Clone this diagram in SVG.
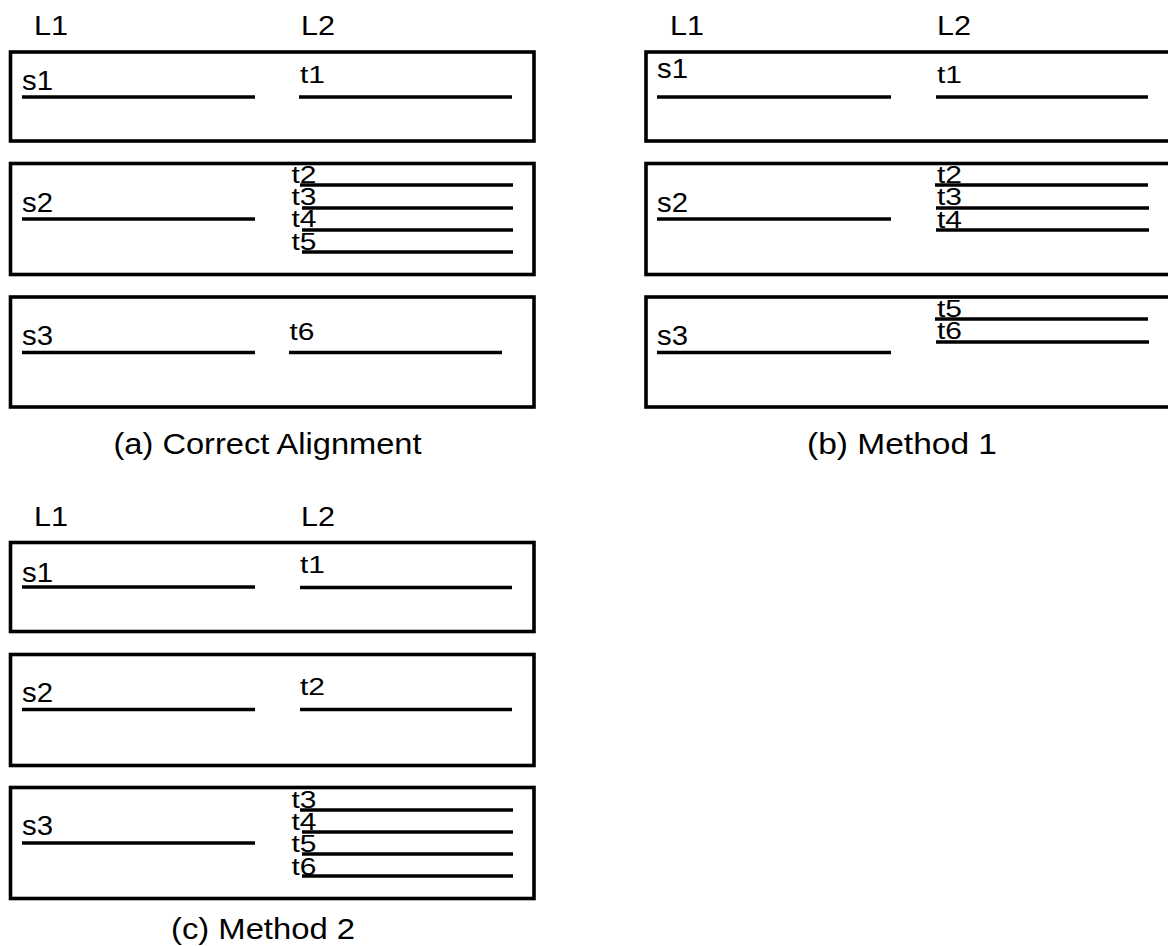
<svg xmlns="http://www.w3.org/2000/svg" width="1168" height="946" viewBox="0 0 1168 946">
  <style>
    text { font-family: "Liberation Sans", Arial, sans-serif; fill: #000; }
    .hdr { font-size: 28px; }
    .sl { font-size: 28px; }
    .tl { font-size: 23px; }
    .cap { font-size: 30px; }
    .box { fill: none; stroke: #000; stroke-width: 3.6; }
    .seg { stroke: #000; stroke-width: 3.6; fill: none; }
  </style>
  <rect width="1168" height="946" fill="#fff"/>

  <!-- Panel (a): correct alignment -->
  <g id="panel-a">
    <text class="hdr" x="34" y="35" textLength="34" lengthAdjust="spacingAndGlyphs">L1</text>
    <text class="hdr" x="301" y="35" textLength="34" lengthAdjust="spacingAndGlyphs">L2</text>
    <g id="a-s1">
      <rect class="box" x="10.5" y="52" width="523.5" height="89"/>
      <text class="sl" x="22" y="90" textLength="31" lengthAdjust="spacingAndGlyphs">s1</text>
      <line class="seg" x1="22" y1="97" x2="255" y2="97"/>
      <text class="tl" x="300" y="83" textLength="25" lengthAdjust="spacingAndGlyphs">t1</text>
      <line class="seg" x1="299" y1="97" x2="512" y2="97"/>
    </g>
    <g id="a-s2">
      <rect class="box" x="10.5" y="163.5" width="523.5" height="111"/>
      <text class="sl" x="22" y="212" textLength="31" lengthAdjust="spacingAndGlyphs">s2</text>
      <line class="seg" x1="22" y1="219" x2="255" y2="219"/>
      <text class="tl" x="291.5" y="183" textLength="25" lengthAdjust="spacingAndGlyphs">t2</text>
      <line class="seg" x1="300" y1="185" x2="513" y2="185"/>
      <text class="tl" x="291.5" y="205" textLength="25" lengthAdjust="spacingAndGlyphs">t3</text>
      <line class="seg" x1="302" y1="208" x2="513" y2="208"/>
      <text class="tl" x="291.5" y="227" textLength="25" lengthAdjust="spacingAndGlyphs">t4</text>
      <line class="seg" x1="302" y1="230" x2="513" y2="230"/>
      <text class="tl" x="291.5" y="250" textLength="25" lengthAdjust="spacingAndGlyphs">t5</text>
      <line class="seg" x1="302" y1="252" x2="513" y2="252"/>
    </g>
    <g id="a-s3">
      <rect class="box" x="10.5" y="297" width="523.5" height="110"/>
      <text class="sl" x="22" y="345" textLength="31" lengthAdjust="spacingAndGlyphs">s3</text>
      <line class="seg" x1="22" y1="352.5" x2="255" y2="352.5"/>
      <text class="tl" x="289.5" y="340" textLength="25" lengthAdjust="spacingAndGlyphs">t6</text>
      <line class="seg" x1="289" y1="352.5" x2="502" y2="352.5"/>
    </g>
    <text class="cap" x="267.5" y="454" text-anchor="middle" textLength="308" lengthAdjust="spacingAndGlyphs">(a) Correct Alignment</text>
  </g>

  <!-- Panel (b): method 1 -->
  <g id="panel-b">
    <text class="hdr" x="670" y="35" textLength="34" lengthAdjust="spacingAndGlyphs">L1</text>
    <text class="hdr" x="937" y="35" textLength="34" lengthAdjust="spacingAndGlyphs">L2</text>
    <g id="b-s1">
      <rect class="box" x="646" y="52" width="530" height="89"/>
      <text class="sl" x="657" y="78" textLength="31" lengthAdjust="spacingAndGlyphs">s1</text>
      <line class="seg" x1="657" y1="97" x2="891" y2="97"/>
      <text class="tl" x="937" y="83" textLength="25" lengthAdjust="spacingAndGlyphs">t1</text>
      <line class="seg" x1="936" y1="97" x2="1148" y2="97"/>
    </g>
    <g id="b-s2">
      <rect class="box" x="646" y="163.5" width="530" height="111"/>
      <text class="sl" x="657" y="212" textLength="31" lengthAdjust="spacingAndGlyphs">s2</text>
      <line class="seg" x1="657" y1="219" x2="891" y2="219"/>
      <text class="tl" x="937" y="183" textLength="25" lengthAdjust="spacingAndGlyphs">t2</text>
      <line class="seg" x1="935" y1="185" x2="1148" y2="185"/>
      <text class="tl" x="937" y="205" textLength="25" lengthAdjust="spacingAndGlyphs">t3</text>
      <line class="seg" x1="936" y1="208" x2="1149" y2="208"/>
      <text class="tl" x="937" y="228" textLength="25" lengthAdjust="spacingAndGlyphs">t4</text>
      <line class="seg" x1="936" y1="230" x2="1149" y2="230"/>
    </g>
    <g id="b-s3">
      <rect class="box" x="646" y="297" width="530" height="110"/>
      <text class="sl" x="657" y="345" textLength="31" lengthAdjust="spacingAndGlyphs">s3</text>
      <line class="seg" x1="657" y1="352.5" x2="891" y2="352.5"/>
      <text class="tl" x="937" y="317" textLength="25" lengthAdjust="spacingAndGlyphs">t5</text>
      <line class="seg" x1="935" y1="319" x2="1148" y2="319"/>
      <text class="tl" x="937" y="339" textLength="25" lengthAdjust="spacingAndGlyphs">t6</text>
      <line class="seg" x1="936" y1="342" x2="1149" y2="342"/>
    </g>
    <text class="cap" x="902" y="454" text-anchor="middle" textLength="190" lengthAdjust="spacingAndGlyphs">(b) Method 1</text>
  </g>

  <!-- Panel (c): method 2 -->
  <g id="panel-c">
    <text class="hdr" x="34" y="526" textLength="34" lengthAdjust="spacingAndGlyphs">L1</text>
    <text class="hdr" x="301" y="526" textLength="34" lengthAdjust="spacingAndGlyphs">L2</text>
    <g id="c-s1">
      <rect class="box" x="10.5" y="542.5" width="523.5" height="89"/>
      <text class="sl" x="22" y="582" textLength="31" lengthAdjust="spacingAndGlyphs">s1</text>
      <line class="seg" x1="22" y1="587" x2="255" y2="587"/>
      <text class="tl" x="300" y="573" textLength="25" lengthAdjust="spacingAndGlyphs">t1</text>
      <line class="seg" x1="300" y1="587.5" x2="512" y2="587.5"/>
    </g>
    <g id="c-s2">
      <rect class="box" x="10.5" y="654.5" width="523.5" height="111"/>
      <text class="sl" x="22" y="702" textLength="31" lengthAdjust="spacingAndGlyphs">s2</text>
      <line class="seg" x1="22" y1="709.5" x2="255" y2="709.5"/>
      <text class="tl" x="300" y="695" textLength="25" lengthAdjust="spacingAndGlyphs">t2</text>
      <line class="seg" x1="300" y1="709.5" x2="512" y2="709.5"/>
    </g>
    <g id="c-s3">
      <rect class="box" x="10.5" y="787.5" width="523.5" height="111"/>
      <text class="sl" x="22" y="835" textLength="31" lengthAdjust="spacingAndGlyphs">s3</text>
      <line class="seg" x1="22" y1="843" x2="255" y2="843"/>
      <text class="tl" x="291.5" y="808" textLength="25" lengthAdjust="spacingAndGlyphs">t3</text>
      <line class="seg" x1="300" y1="810" x2="513" y2="810"/>
      <text class="tl" x="291.5" y="830" textLength="25" lengthAdjust="spacingAndGlyphs">t4</text>
      <line class="seg" x1="302" y1="832" x2="513" y2="832"/>
      <text class="tl" x="291.5" y="852" textLength="25" lengthAdjust="spacingAndGlyphs">t5</text>
      <line class="seg" x1="302" y1="854" x2="513" y2="854"/>
      <text class="tl" x="291.5" y="875" textLength="25" lengthAdjust="spacingAndGlyphs">t6</text>
      <line class="seg" x1="302" y1="876" x2="513" y2="876"/>
    </g>
    <text class="cap" x="263" y="939" text-anchor="middle" textLength="184" lengthAdjust="spacingAndGlyphs">(c) Method 2</text>
  </g>
</svg>
